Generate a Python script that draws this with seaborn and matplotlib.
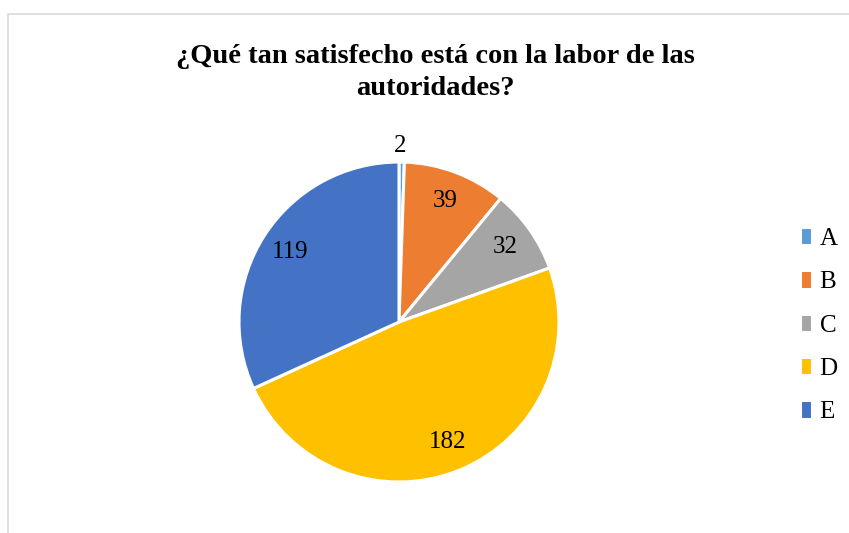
import matplotlib
matplotlib.use("Agg")
import matplotlib.pyplot as plt
import seaborn as sns
from matplotlib.patches import Rectangle

# Données
categories = ["A", "B", "C", "D", "E"]
valeurs = [2, 39, 32, 182, 119]
couleurs = ["#5B9BD5", "#ED7D31", "#A5A5A5", "#FFC000", "#4472C4"]
titre = "¿Qué tan satisfecho está con la labor de las\nautoridades?"

sns.set_theme(style="white")
plt.rcParams['font.family'] = ['Liberation Serif', 'DejaVu Serif']
plt.rcParams['text.color'] = 'black'

palette = sns.color_palette(couleurs)
total = sum(valeurs)

fig = plt.figure(figsize=(8.49, 5.33), dpi=100)

# cadre gris façon Excel
fig.patches.append(Rectangle((8 / 849, -0.1), 1.2, (533 - 14) / 533 + 0.1,
                             transform=fig.transFigure, fill=False,
                             edgecolor="#D9D9D9", linewidth=1.2))

ax = fig.add_axes([(399 - 160) / 849, (533 - 482) / 533, 320 / 849, 320 / 533])
wedges, _, autotexts = ax.pie(
    valeurs, colors=palette, startangle=90, counterclock=False,
    autopct=lambda p: f"{round(p * total / 100):d}", pctdistance=0.81,
    wedgeprops=dict(edgecolor="white", linewidth=2.2),
    textprops=dict(fontsize=18, color="black"))
ax.set_xlim(-1, 1)
ax.set_ylim(-1, 1)

# la petite part A : étiquette à l'extérieur
autotexts[0].set_position((0.01, 1.1))

fig.text(0.513, 0.918, titre, ha="center", va="top", fontsize=20.5,
         fontweight="bold", linespacing=1.4, color="black")

fig.legend(wedges, categories, loc="center left", bbox_to_anchor=(0.93, 0.39),
           frameon=False, fontsize=18, handlelength=0.5, handleheight=0.75,
           handletextpad=0.3, labelspacing=0.82, borderaxespad=0)

fig.savefig("out.png", dpi=100)
